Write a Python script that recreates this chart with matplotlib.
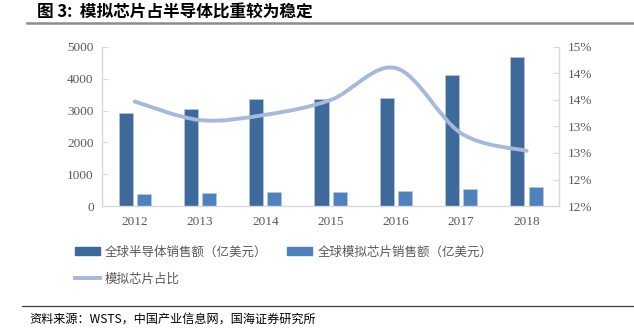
import numpy as np
import matplotlib.pyplot as plt
from matplotlib.path import Path
from matplotlib.patches import PathPatch, Patch
from matplotlib.lines import Line2D

plt.rcParams['font.family'] = ['Noto Sans CJK SC', 'DejaVu Sans']

# data
years = ['2012', '2013', '2014', '2015', '2016', '2017', '2018']
semi_sales = [2916, 3056, 3358, 3352, 3389, 4122, 4688]     # 亿美元
analog_sales = [380, 400, 440, 450, 475, 530, 590]           # 亿美元
analog_share = [13.97, 13.62, 13.72, 14.00, 14.60, 13.37, 13.04]  # %

right_ticks = [12, 12.5, 13, 13.5, 14, 14.5, 15]
right_labels = ['12%', '12%', '13%', '13%', '14%', '14%', '15%']
left_ticks = [0, 1000, 2000, 3000, 4000, 5000]

title = '图 3:  模拟芯片占半导体比重较为稳定'
source = '资料来源：WSTS，中国产业信息网，国海证券研究所'
leg_labels = ['全球半导体销售额（亿美元）', '全球模拟芯片销售额（亿美元）', '模拟芯片占比']

dark = '#3e6a9b'
light = '#4f81bd'
line_c = '#a7b9d9'
gray = '#595959'
spine_c = '#d9d9d9'


def smooth_path(xs, ys):
    # excel-like smoothed line: cubic bezier through all points
    pts = np.column_stack([xs, ys]).astype(float)
    n = len(pts)
    verts = [pts[0]]
    codes = [Path.MOVETO]
    for i in range(n - 1):
        p0 = pts[i - 1] if i > 0 else pts[i]
        p1 = pts[i]
        p2 = pts[i + 1]
        p3 = pts[i + 2] if i + 2 < n else pts[i + 1]
        c1 = p1 + (p2 - p0) / 6.0
        c2 = p2 - (p3 - p1) / 6.0
        verts += [c1, c2, p2]
        codes += [Path.CURVE4] * 3
    return Path(verts, codes)


fig = plt.figure(figsize=(6.34, 3.35), dpi=100)
ax = fig.add_axes([0.161, 0.385, 0.721, 0.475])
ax2 = ax.twinx()
ax.set_zorder(1)
ax.patch.set_visible(False)

x = np.arange(len(years))
w = 0.215
ax.bar(x - 0.14, semi_sales, w, color=dark, edgecolor='#b8c8de', linewidth=0.5, zorder=2)
ax.bar(x + 0.14, analog_sales, w, color=light, edgecolor='#b8c8de', linewidth=0.5, zorder=2)

ax.set_xlim(-0.5, len(years) - 0.5)
ax.set_ylim(0, 5000)
ax.set_yticks(left_ticks)
ax.set_yticklabels([str(v) for v in left_ticks])
ax.set_xticks(x)
ax.set_xticklabels(years)

ax2.set_ylim(12, 15)
ax2.set_yticks(right_ticks)
ax2.set_yticklabels(right_labels)

# the share line sits on the right axis but is drawn above the bars
patch = PathPatch(smooth_path(x, analog_share), facecolor='none', edgecolor=line_c,
                  linewidth=2.8, capstyle='round', zorder=3)
ax.add_patch(patch)
patch.set_transform(ax2.transData)

for a in (ax, ax2):
    a.spines['top'].set_visible(False)
    for s in ('left', 'right', 'bottom'):
        a.spines[s].set_color(spine_c)
        a.spines[s].set_linewidth(1.0)
    a.tick_params(axis='y', direction='in', length=4, color=spine_c, labelcolor=gray,
                  labelsize=9.5, pad=6)
    for lab in a.get_yticklabels():
        lab.set_family('Liberation Serif')
ax.spines['right'].set_visible(False)
ax2.spines['left'].set_visible(False)
ax2.spines['bottom'].set_visible(False)
ax.tick_params(axis='x', length=0, labelcolor=gray, labelsize=9.5, pad=7)
for lab in ax.get_xticklabels():
    lab.set_family('Liberation Serif')

# legend, ordered so it fills row by row like the reference
handles = [Patch(color=dark), Line2D([0], [0], color=line_c, linewidth=2.8), Patch(color=light)]
labels = [leg_labels[0], leg_labels[2], leg_labels[1]]
fig.legend(handles, labels, loc='upper left', bbox_to_anchor=(0.118, 0.267),
           ncol=2, frameon=False, fontsize=9, labelcolor=gray,
           handlelength=2.0, handleheight=0.52, handletextpad=0.4,
           columnspacing=1.6, labelspacing=1.1, borderaxespad=0, borderpad=0)

# title and source
fig.text(0.058, 0.962, title, fontsize=12, fontweight='bold', va='center', ha='left')
fig.add_artist(Line2D([0.043, 1.0], [0.931, 0.931], color='#8c8c8c', linewidth=1.8))
fig.add_artist(Line2D([0.035, 1.0], [0.087, 0.087], color='#404040', linewidth=0.9))
fig.text(0.047, 0.048, source, fontsize=8.7, va='center', ha='left')

fig.savefig('out.png', dpi=100)
